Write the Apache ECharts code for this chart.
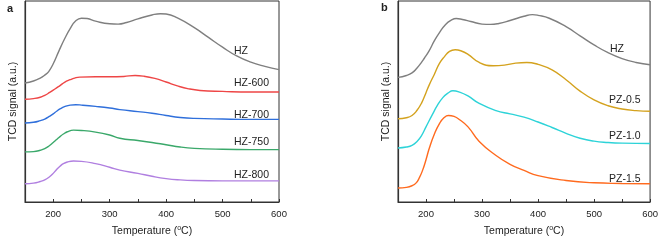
<!DOCTYPE html>
<html><head><meta charset="utf-8">
<script src="https://cdn.jsdelivr.net/npm/echarts@6/dist/echarts.min.js"></script>
<style>html,body{margin:0;padding:0;background:#fff}#c{width:661px;height:242px}</style>
</head><body><div id="c"></div>
<script>
// Panel a (temperature in °C, TCD signal in arbitrary units, offset curves)
const hzA_T  = [150,165,177,185,192,200,210,220,230,240,250,260,275,300,315,330,350,375,390,400,420,450,475,500,525,550,575,600];
const hzA_V  = [366,372,381,390,401,425,464,501,533,557,565,564,556,548,547,552,563,575,579,578,566,536,506,476,449,430,417,407];
const hz600_T = [150,165,177,185,193,200,206,212,220,230,238,247,275,300,325,345,360,380,400,420,440,460,500,550,600];
const hz600_V = [316,318,322,328,336,344,351,358,368,376,381,384,385,385,386,389,387,380,369,357,348,343,340,338,338];
const hz700_T = [150,165,177,185,193,200,206,212,220,230,240,250,275,300,318,350,375,400,425,450,500,550,600];
const hz700_V = [243,245,250,255,263,271,279,286,293,298,299,298,294,289,284,278,273,266,260,257,255,254,254];
const hz750_T = [150,165,177,185,193,200,206,212,218,225,236,250,275,300,318,350,375,400,425,450,500,550,600];
const hz750_V = [154,155,159,164,173,183,192,201,209,216,221,220,215,206,196,189,183,176,169,165,162,161,161];
const hz800_T = [150,165,177,185,193,200,206,212,218,225,236,250,275,300,318,350,375,400,425,450,500,600];
const hz800_V = [56,58,63,68,77,88,100,110,118,123,126,125,118,107,98,88,79,72,68,66,65,65];
// Panel b
const hzB_T  = [150,165,175,184,191,197,205,215,224,235,245,254,265,280,300,315,330,350,375,390,400,420,450,475,500,525,550,575,600];
const hzB_V  = [383,389,397,412,427,442,463,496,521,546,559,564,561,555,547,546,549,558,571,576,574,565,539,511,483,459,441,429,422];
const pz05_T = [150,165,175,184,192,200,206,215,224,233,242,252,262,275,295,320,340,360,380,400,425,450,475,500,525,550,575,600];
const pz05_V = [256,259,266,282,304,336,361,393,426,447,463,468,465,454,429,419,421,427,429,423,406,376,341,314,296,286,281,279];
const pz10_T = [150,165,175,184,192,200,212,220,230,240,248,260,275,295,325,350,375,400,425,450,475,500,525,550,600];
const pz10_V = [166,169,174,186,204,231,271,296,321,336,342,338,326,303,281,271,261,246,229,211,196,187,183,181,180];
const pz15_T = [150,165,175,182,188,194,200,206,215,224,232,240,250,260,275,295,325,350,375,400,450,500,550,600];
const pz15_V = [43,45,50,58,74,98,130,166,209,241,259,266,263,253,231,186,143,116,97,81,66,59,57,56];

const labelsA = ['HZ','HZ-600','HZ-700','HZ-750','HZ-800'];
const labelsB = ['HZ','PZ-0.5','PZ-1.0','PZ-1.5'];
const xTicks = [200,300,400,500,600];

const pairs = (t, v) => t.map((x, i) => [x, v[i]]);
const FONT = 'Liberation Sans, Arial, sans-serif';

function xAxis(gi) {
  return {
    type: 'value', gridIndex: gi, min: 150, max: 600, interval: 50,
    axisLine: {lineStyle: {color: '#333', width: 1.2}},
    axisTick: {inside: true, length: 3, lineStyle: {color: '#333'}},
    axisLabel: {margin: 7, fontSize: 9.5, color: '#222', fontFamily: FONT,
      formatter: v => xTicks.includes(v) ? String(v) : ''},
    splitLine: {show: false},
    name: 'Temperature ({sup|o}C)', nameLocation: 'middle', nameGap: 23,
    nameTextStyle: {fontSize: 10.5, color: '#222', fontFamily: FONT,
      rich: {sup: {fontSize: 7, verticalAlign: 'top', padding: [0,0,6,0], color: '#222', fontFamily: FONT}}}
  };
}
function yAxis(gi) {
  return {
    type: 'value', gridIndex: gi, min: 0, max: 618,
    axisLine: {show: true, lineStyle: {color: '#333', width: 1.2}},
    axisTick: {show: false}, axisLabel: {show: false}, splitLine: {show: false},
    name: 'TCD signal (a.u.)', nameLocation: 'middle', nameGap: 6,
    nameTextStyle: {fontSize: 10.5, color: '#222', fontFamily: FONT}
  };
}
function line(gi, t, v, color) {
  return {type: 'line', xAxisIndex: gi, yAxisIndex: gi, data: pairs(t, v), showSymbol: false,
    smooth: 0.5, lineStyle: {color: color, width: 1.4}, silent: true};
}
function txt(x, y, s, bold) {
  return {type: 'text', left: x, top: y, style: {text: s, fontSize: bold ? 11 : 10.5,
    fontWeight: bold ? 'bold' : 'normal', fill: '#222', font: (bold ? 'bold ' : '') + (bold ? 11 : 10.5) + 'px ' + FONT}};
}

const chart = echarts.init(document.getElementById('c'), null, {renderer: 'canvas'});
chart.setOption({
  animation: false,
  grid: [
    {left: 25, top: 1, width: 254, height: 206, show: true, borderColor: '#333', borderWidth: 1},
    {left: 398, top: 1, width: 254, height: 206, show: true, borderColor: '#333', borderWidth: 1}
  ],
  xAxis: [xAxis(0), xAxis(1)],
  yAxis: [yAxis(0), yAxis(1)],
  series: [
    line(0, hzA_T, hzA_V, '#7f7f7f'),
    line(0, hz600_T, hz600_V, '#ee4646'),
    line(0, hz700_T, hz700_V, '#2f6fdb'),
    line(0, hz750_T, hz750_V, '#3aa86a'),
    line(0, hz800_T, hz800_V, '#b07fe0'),
    line(1, hzB_T, hzB_V, '#7f7f7f'),
    line(1, pz05_T, pz05_V, '#d4a21e'),
    line(1, pz10_T, pz10_V, '#2dd3d8'),
    line(1, pz15_T, pz15_V, '#ff6a1e')
  ],
  graphic: [
    txt(7, 3, 'a', true),
    txt(381, 2, 'b', true),
    txt(234, 46, labelsA[0]), txt(234, 78, labelsA[1]), txt(234, 110, labelsA[2]),
    txt(234, 137, labelsA[3]), txt(234, 170, labelsA[4]),
    txt(610, 44, labelsB[0]), txt(609, 95, labelsB[1]), txt(609, 131, labelsB[2]),
    txt(609, 174, labelsB[3])
  ]
});
</script></body></html>
